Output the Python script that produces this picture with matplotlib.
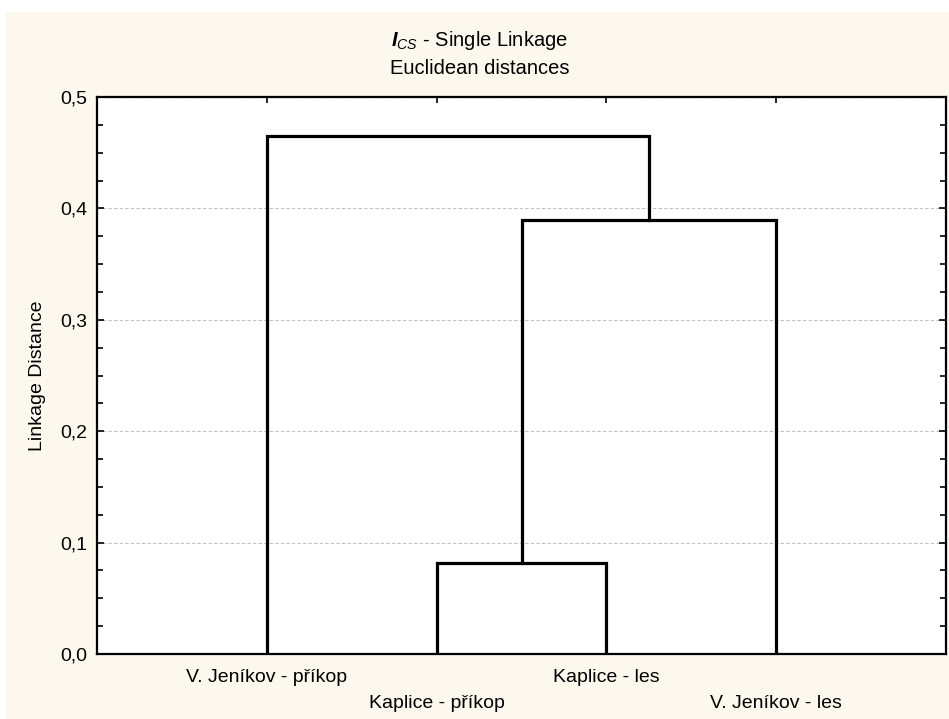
import matplotlib
matplotlib.use("Agg")
import matplotlib.pyplot as plt
from matplotlib.ticker import MultipleLocator, FuncFormatter
from matplotlib.patches import Rectangle

plt.rcParams['font.family'] = ['Liberation Sans', 'DejaVu Sans']
plt.rcParams['mathtext.fontset'] = 'custom'
plt.rcParams['mathtext.rm'] = 'Liberation Sans'
plt.rcParams['mathtext.it'] = 'Liberation Sans:italic'
plt.rcParams['mathtext.bf'] = 'Liberation Sans:bold:italic'

# leaves in plotting order
leaves = ["V. Jeníkov - příkop", "Kaplice - příkop", "Kaplice - les", "V. Jeníkov - les"]
# merges: (left node, right node, linkage distance); new nodes numbered after leaves
merges = [
    (1, 2, 0.082),
    (4, 3, 0.390),
    (0, 5, 0.465),
]

BG = "#fdf8ee"

fig = plt.figure(figsize=(9.49, 7.19), dpi=100)
fig.patch.set_facecolor("white")
fig.patches.append(Rectangle((6 / 949, 0), 1, 1 - 12 / 719, transform=fig.transFigure,
                             facecolor=BG, edgecolor="none", zorder=-10))

ax = fig.add_axes([97 / 949, 1 - 654 / 719, 849 / 949, 557 / 719])
ax.set_facecolor("white")

# node positions: leaves at 1..n, merged nodes at the midpoint of their children
pos = {i: (i + 1, 0.0) for i in range(len(leaves))}
for k, (a, b, h) in enumerate(merges):
    xa, ya = pos[a]
    xb, yb = pos[b]
    ax.plot([xa, xa, xb, xb], [ya, h, h, yb], color="black", lw=2.3,
            solid_joinstyle="miter", zorder=3)
    pos[len(leaves) + k] = ((xa + xb) / 2, h)

ax.set_xlim(0, len(leaves) + 1)
ax.set_ylim(0, 0.5)

ax.yaxis.set_major_locator(MultipleLocator(0.1))
ax.yaxis.set_minor_locator(MultipleLocator(0.025))
ax.yaxis.set_major_formatter(FuncFormatter(lambda v, p: f"{v:.1f}".replace(".", ",")))
ax.tick_params(axis="y", which="both", direction="in", left=True, right=True,
               labelsize=14, width=1.2, pad=7)
ax.tick_params(axis="y", which="major", length=5)
ax.tick_params(axis="y", which="minor", length=4)

ax.set_xticks(range(1, len(leaves) + 1))
ax.tick_params(axis="x", direction="in", bottom=False, top=True, labelbottom=False,
               length=4, width=1.2)

ax.grid(axis="y", which="major", color="#c0c0c0", linestyle=(0, (3, 2)), lw=0.8, zorder=0)

for s in ax.spines.values():
    s.set_linewidth(1.6)

# staggered leaf labels
for i, name in enumerate(leaves):
    off = -24 if i % 2 == 0 else -49
    ax.annotate(name, xy=(i + 1, 0), xycoords=("data", "axes fraction"),
                xytext=(0, off * 0.72), textcoords="offset points",
                ha="center", va="center", fontsize=14, annotation_clip=False)

ax.set_ylabel("Linkage Distance", fontsize=14, labelpad=10)

fig.text(0.5 + 5 / 949, 1 - 41 / 719, r"$\mathbf{I}_{CS}$ - Single Linkage",
         ha="center", va="center", fontsize=14.5)
fig.text(0.5 + 5 / 949, 1 - 69 / 719, "Euclidean distances",
         ha="center", va="center", fontsize=14.5)

fig.savefig("out.png", dpi=100, facecolor=fig.get_facecolor())
